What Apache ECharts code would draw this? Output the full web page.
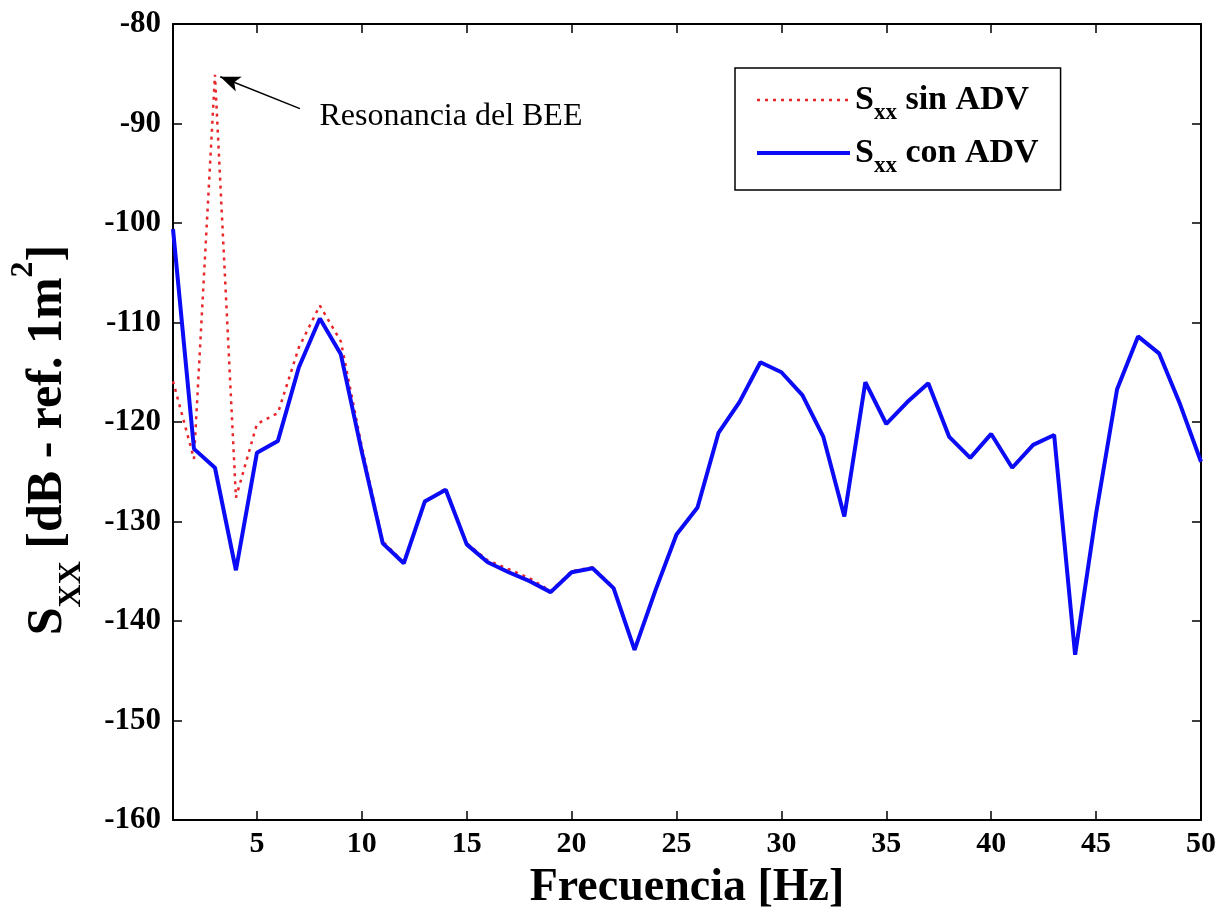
<!DOCTYPE html>
<html lang="es">
<head>
    <meta charset="UTF-8">
    <title>Sxx sin / con ADV</title>
    <script src="https://cdn.jsdelivr.net/npm/echarts@6/dist/echarts.min.js"></script>
    <style>
        html, body { margin: 0; padding: 0; background: #fff; }
        #main { width: 1224px; height: 912px; }
    </style>
</head>
<body>
<div id="main"></div>
<script type="text/javascript">
    // frecuencias 1..50 Hz
    var freq = [1, 2, 3, 4, 5, 6, 7, 8, 9, 10, 11, 12, 13, 14, 15, 16, 17, 18, 19, 20,
        21, 22, 23, 24, 25, 26, 27, 28, 29, 30, 31, 32, 33, 34, 35, 36, 37, 38, 39, 40,
        41, 42, 43, 44, 45, 46, 47, 48, 49, 50];
    var sinADV = [-115.9, -123.7, -85.1, -127.6, -120.2, -119.1, -112.5, -108.3, -111.9, -122.5,
        -132.0, -134.1, -128.0, -126.7, -132.2, -133.9, -134.8, -135.7, -137.0, -135.0,
        -134.6, -136.6, -142.9, -136.9, -131.3, -128.6, -121.1, -118.0, -114.0, -115.0,
        -117.3, -121.5, -129.4, -116.0, -120.2, -118.0, -116.1, -121.5, -123.6, -121.2,
        -124.6, -122.3, -121.3, -143.3, -129.2, -116.7, -111.4, -113.1, -118.2, -124.0];
    var conADV = [-100.6, -122.7, -124.6, -134.9, -123.1, -121.9, -114.5, -109.6, -113.2, -123.0,
        -132.2, -134.2, -128.0, -126.8, -132.3, -134.1, -135.1, -136.0, -137.1, -135.1,
        -134.7, -136.7, -142.9, -136.9, -131.3, -128.6, -121.1, -118.0, -114.0, -115.0,
        -117.3, -121.5, -129.5, -116.0, -120.2, -118.0, -116.1, -121.5, -123.6, -121.2,
        -124.6, -122.3, -121.3, -143.4, -129.2, -116.7, -111.4, -113.1, -118.2, -124.0];
    var xTicks = [5, 10, 15, 20, 25, 30, 35, 40, 45, 50];
    var yTicks = [-160, -150, -140, -130, -120, -110, -100, -90, -80];
    // flecha de la anotacion: punta y cola
    var arrowTip = [3.25, -85.3];
    var arrowTail = [7.05, -88.5];

    var serif = "'Liberation Serif', 'Times New Roman', serif";
    var black = '#000';
    var red = '#e8262b';
    var blue = '#0b0bf5';

    function pairs(ys) {
        return freq.map(function (f, i) { return [f, ys[i]]; });
    }

    var myChart = echarts.init(document.getElementById('main'), null, { renderer: 'canvas' });

    var tickStyle = { show: true, inside: true, length: 9, lineStyle: { color: black, width: 1.5 } };

    var option = {
        animation: false,
        backgroundColor: '#fff',
        grid: { left: 173, right: 23, top: 24, bottom: 92, containLabel: false, outerBoundsMode: 'none' },
        legend: {
            left: 735,
            top: 68,
            orient: 'vertical',
            selectedMode: false,
            backgroundColor: '#fff',
            borderColor: black,
            borderWidth: 1.5,
            padding: [15, 22, 12, 20],
            itemGap: 11,
            itemWidth: 93,
            itemHeight: 14,
            itemStyle: { opacity: 0 },
            data: [
                { name: 'sin ADV', lineStyle: { width: 2.5, color: red, type: [3, 5] } },
                { name: 'con ADV', lineStyle: { width: 4, color: blue } }
            ],
            formatter: function (name) {
                return '{s|S}{sub|xx}{t| ' + name + '}';
            },
            textStyle: {
                color: black,
                rich: {
                    s: { fontFamily: serif, fontWeight: 'bold', fontSize: 34, lineHeight: 50, color: black },
                    sub: { fontFamily: serif, fontWeight: 'bold', fontSize: 23, lineHeight: 28, verticalAlign: 'bottom', color: black },
                    t: { fontFamily: serif, fontWeight: 'bold', fontSize: 34, lineHeight: 50, color: black }
                }
            }
        },
        xAxis: [{
            type: 'value',
            min: 1,
            max: 50,
            position: 'bottom',
            name: 'Frecuencia [Hz]',
            nameLocation: 'middle',
            nameGap: 45,
            nameTextStyle: { fontFamily: serif, fontWeight: 'bold', fontSize: 46, color: black },
            axisLine: { show: true, lineStyle: { color: black, width: 2 } },
            axisTick: Object.assign({ customValues: xTicks }, tickStyle),
            axisLabel: {
                customValues: xTicks,
                fontFamily: serif, fontWeight: 'bold', fontSize: 30, color: black, margin: 9
            },
            splitLine: { show: false }
        }, {
            type: 'value',
            min: 1,
            max: 50,
            position: 'top',
            axisLine: { show: true, lineStyle: { color: black, width: 2 } },
            axisTick: Object.assign({ customValues: xTicks }, tickStyle),
            axisLabel: { show: false },
            splitLine: { show: false }
        }],
        yAxis: [{
            type: 'value',
            min: -160,
            max: -80,
            position: 'left',
            name: '{s|S}{sub|XX}{t| [dB - ref. 1m}{sup|2}{t|]}',
            nameLocation: 'middle',
            nameRotate: 90,
            nameGap: 85,
            nameTextStyle: {
                color: black,
                padding: [0, 36, 0, 0],
                rich: {
                    s: { fontFamily: serif, fontWeight: 'bold', fontSize: 50, lineHeight: 80, color: black },
                    sub: { fontFamily: serif, fontWeight: 'bold', fontSize: 32, lineHeight: 48, verticalAlign: 'bottom', color: black },
                    t: { fontFamily: serif, fontWeight: 'bold', fontSize: 50, lineHeight: 80, color: black },
                    sup: { fontFamily: serif, fontWeight: 'bold', fontSize: 32, lineHeight: 30, verticalAlign: 'top', color: black }
                }
            },
            axisLine: { show: true, lineStyle: { color: black, width: 2 } },
            axisTick: Object.assign({ customValues: yTicks }, tickStyle),
            axisLabel: {
                customValues: yTicks,
                fontFamily: serif, fontWeight: 'bold', fontSize: 31, color: black, margin: 12
            },
            splitLine: { show: false }
        }, {
            type: 'value',
            min: -160,
            max: -80,
            position: 'right',
            axisLine: { show: true, lineStyle: { color: black, width: 2 } },
            axisTick: Object.assign({ customValues: yTicks }, tickStyle),
            axisLabel: { show: false },
            splitLine: { show: false }
        }],
        series: [{
            name: 'sin ADV',
            type: 'line',
            symbol: 'none',
            data: pairs(sinADV),
            lineStyle: { color: red, width: 2.5, type: [3, 5] },
            itemStyle: { color: red },
            markLine: {
                silent: true,
                symbol: ['arrow', 'none'],
                symbolSize: [12, 20],
                lineStyle: { color: black, width: 1.5, type: 'solid' },
                label: {
                    show: true,
                    position: 'end',
                    distance: 21,
                    formatter: 'Resonancia del BEE',
                    fontFamily: serif,
                    fontWeight: 'normal',
                    fontSize: 32,
                    color: black
                },
                data: [[{ coord: arrowTip }, { coord: arrowTail }]]
            }
        }, {
            name: 'con ADV',
            type: 'line',
            symbol: 'none',
            data: pairs(conADV),
            lineStyle: { color: blue, width: 4 },
            itemStyle: { color: blue }
        }]
    };
    myChart.setOption(option);
</script>
</body>
</html>
